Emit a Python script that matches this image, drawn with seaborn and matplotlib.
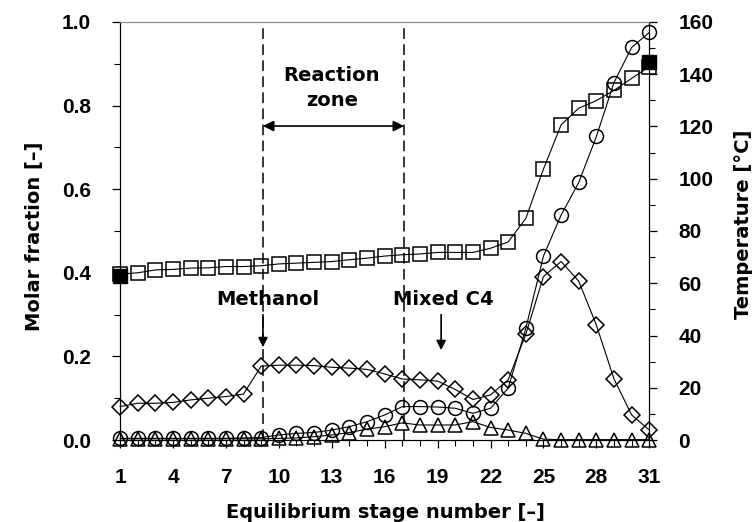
import numpy as np
import matplotlib
matplotlib.use('Agg')
import matplotlib.pyplot as plt
from matplotlib.ticker import MultipleLocator, FormatStrFormatter
import seaborn as sns

# stage numbers
stages = np.arange(1, 32)

# molar fractions (left axis)
methanol = [0.080, 0.088, 0.088, 0.090, 0.096, 0.100, 0.104, 0.110, 0.177, 0.179,
            0.179, 0.178, 0.174, 0.172, 0.169, 0.158, 0.146, 0.144, 0.141, 0.121,
            0.097, 0.108, 0.144, 0.253, 0.391, 0.427, 0.380, 0.275, 0.146, 0.060, 0.024]
circles = [0.004, 0.004, 0.004, 0.004, 0.004, 0.004, 0.004, 0.005, 0.006, 0.012,
           0.016, 0.018, 0.024, 0.032, 0.044, 0.060, 0.080, 0.080, 0.079, 0.076,
           0.064, 0.076, 0.124, 0.267, 0.440, 0.538, 0.616, 0.726, 0.855, 0.939, 0.975]
triangles = [0.003, 0.003, 0.003, 0.003, 0.003, 0.003, 0.003, 0.003, 0.003, 0.004,
             0.005, 0.008, 0.012, 0.018, 0.026, 0.032, 0.041, 0.036, 0.036, 0.036,
             0.044, 0.030, 0.024, 0.016, 0.002, 0.001, 0.001, 0.001, 0.001, 0.001, 0.001]

# temperature profile (right axis)
temperature = [63.5, 64.0, 65.1, 65.3, 65.8, 65.9, 66.4, 66.4, 66.7, 67.4,
               67.7, 68.0, 68.3, 69.0, 69.6, 70.4, 70.9, 71.2, 71.8, 71.8,
               71.8, 73.4, 75.8, 84.8, 103.7, 120.6, 127.0, 129.9, 133.8, 138.4, 142.9]
meas_stage = [1, 31]
meas_temp = [62.7, 144.6]

zone_left, zone_right = 9.1, 17.1

sns.set_style('ticks')
plt.rcParams['font.family'] = ['DejaVu Sans']
plt.rcParams['text.color'] = 'black'
plt.rcParams['axes.labelcolor'] = 'black'
plt.rcParams['xtick.color'] = 'black'
plt.rcParams['ytick.color'] = 'black'

fig = plt.figure(figsize=(7.55, 5.22), dpi=100)
ax = fig.add_axes([0.159, 0.157, 0.701, 0.801])
ax2 = ax.twinx()

style = dict(color='black', lw=0.8, mfc='none', mec='black', mew=1.1, clip_on=False)
sns.lineplot(x=stages, y=methanol, ax=ax, marker='D', ms=8.5, **style)
sns.lineplot(x=stages, y=circles, ax=ax, marker='o', ms=10, **style)
sns.lineplot(x=stages, y=triangles, ax=ax, marker='^', ms=10, **style)
sns.lineplot(x=stages, y=temperature, ax=ax2, marker='s', ms=10.5, **style)
ax2.plot(meas_stage, meas_temp, ls='none', marker='s', ms=10.5, color='black', clip_on=False, zorder=5)

for xv in (zone_left, zone_right):
    ax.axvline(xv, color='black', ls=(0, (7, 3.5)), lw=1.1)

ann = dict(fontsize=14, fontweight='bold', family='DejaVu Sans', color='black')
ax.annotate('', xy=(zone_left, 0.751), xytext=(zone_right, 0.751),
            arrowprops=dict(arrowstyle='<|-|>', color='black', lw=1.2,
                            mutation_scale=16, shrinkA=0, shrinkB=0))
ax.text(13.0, 0.842, 'Reaction\nzone', ha='center', va='center', linespacing=1.45, **ann)

ax.text(9.4, 0.335, 'Methanol', ha='center', va='center', **ann)
ax.annotate('', xy=(zone_left, 0.222), xytext=(zone_left, 0.300),
            arrowprops=dict(arrowstyle='-|>', color='black', lw=1.2,
                            mutation_scale=14, shrinkA=0, shrinkB=0))
ax.text(19.3, 0.335, 'Mixed C4', ha='center', va='center', **ann)
ax.annotate('', xy=(19.2, 0.215), xytext=(19.2, 0.300),
            arrowprops=dict(arrowstyle='-|>', color='black', lw=1.2,
                            mutation_scale=14, shrinkA=0, shrinkB=0))

ax.set_xlim(1, 31)
ax.set_ylim(0, 1)
ax2.set_ylim(0, 160)
ax.set_xticks(range(1, 32, 3))
ax.xaxis.set_minor_locator(MultipleLocator(1))
ax.yaxis.set_major_locator(MultipleLocator(0.2))
ax.yaxis.set_minor_locator(MultipleLocator(0.1))
ax.yaxis.set_major_formatter(FormatStrFormatter('%.1f'))
ax2.yaxis.set_major_locator(MultipleLocator(20))
ax2.yaxis.set_minor_locator(MultipleLocator(10))

for a in (ax, ax2):
    a.tick_params(which='major', direction='out', length=6, width=0.9, labelsize=15,
                  color='black', labelcolor='black')
    a.tick_params(which='minor', direction='out', length=4, width=0.8, color='black')
    for lab in a.get_xticklabels() + a.get_yticklabels():
        lab.set_fontweight('bold')
        lab.set_family('Liberation Sans')
    for sp in a.spines.values():
        sp.set_linewidth(0.8)
        sp.set_color('black')
ax.spines['top'].set_color('#888888')
ax2.spines['top'].set_color('#888888')
ax.tick_params(axis='y', pad=15)
ax2.tick_params(axis='y', pad=15)
ax.tick_params(axis='x', pad=14)

lab = dict(fontsize=14, fontweight='bold', family='DejaVu Sans', color='black')
ax.set_xlabel('Equilibrium stage number [–]', **lab)
ax.set_ylabel('Molar fraction [–]', **lab)
ax2.set_ylabel('Temperature [°C]', **lab)
ax.xaxis.set_label_coords(0.501, -0.151)
ax.yaxis.set_label_coords(-0.143, 0.488)
ax2.yaxis.set_label_coords(1.160, 0.515)

fig.savefig('out.png', dpi=100)
